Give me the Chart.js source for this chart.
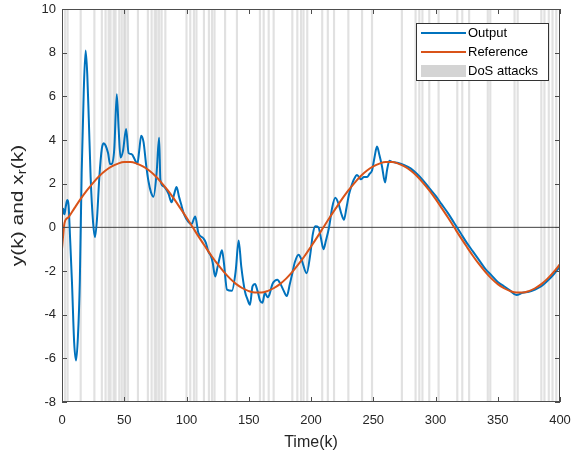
<!DOCTYPE html>
<html>
<head>
<meta charset="utf-8">
<script src="https://cdn.jsdelivr.net/npm/chart.js@4.4.1/dist/chart.umd.min.js"></script>
<style>
  html, body { margin: 0; padding: 0; background: #fff; }
</style>
</head>
<body>
<canvas id="chart" width="572" height="458"></canvas>
<script>
// values
const outputTime = [0, 1, 2, 3, 4.3, 5.3, 6.5, 8, 9.8, 11.3, 12.8, 14.3, 15.8, 17.5, 19, 20.3, 21.5, 23, 25, 26.5,
    28, 30, 32, 33.5, 35, 37, 38.6, 40, 42, 44, 45.5, 47, 49, 51.5, 53.5, 56, 58.5, 60.5, 62, 63.6,
    65.5, 67.5, 69.5, 71.5, 73.5, 76, 78, 79, 81, 83, 85.5, 88, 90, 92, 94, 95.5, 98, 101.5, 104, 107,
    109.5, 113.5, 115.5, 117.5, 119.5, 121, 123, 125, 127, 128.5, 130, 132.5, 136.5, 139.5, 141.9, 144, 147, 149, 151, 153,
    155, 157, 159, 161, 163, 165, 166.5, 169, 171, 173, 175.5, 178, 180.5, 183, 185, 187, 190, 192.5, 196.5, 199.5,
    201.5, 203.5, 206, 208, 210, 212, 214.5, 217, 219.5, 222, 224.5, 226.5, 228.5, 230.5, 232.5, 234.5, 237, 240, 242.5, 245,
    247, 249, 251, 253, 255, 257, 259.5, 261, 263, 265, 270, 275, 280, 285, 290, 295, 300, 305, 310, 315,
    320, 325, 330, 335, 340, 345, 350, 355, 360, 365, 370, 375, 380, 385, 390, 395, 400];
const outputValues = [0.55, 0.85, 0.6, 0.95, 1.25, 1.0, -0.5, -2.5, -5.3, -6.1, -5.0, -2.5, 2.5, 6.3, 8.1, 7.0, 5.0, 2.3, 0.2, -0.45,
    0.3, 2.3, 3.6, 3.85, 3.75, 3.4, 2.9, 2.9, 3.6, 6.1, 4.5, 3.2, 3.5, 4.5, 3.4, 3.35, 3.1, 2.9, 3.5, 4.2,
    3.9, 2.9, 2.1, 1.6, 1.4, 2.5, 4.1, 2.2, 1.9, 1.8, 1.55, 1.15, 1.5, 1.85, 1.4, 1.1, 0.6, 0.25, 0.15, 0.5,
    -0.25, -0.5, -0.7, -1.1, -1.3, -1.6, -2.25, -1.8, -1.3, -1.05, -1.6, -2.85, -2.9, -2.0, -0.6, -1.8, -2.95, -3.3, -3.55, -2.7,
    -2.6, -2.9, -3.35, -3.45, -3.0, -3.2, -3.1, -2.6, -2.45, -2.4, -2.6, -2.9, -3.15, -2.6, -2.1, -1.6, -1.25, -1.5, -2.1, -1.2,
    -0.3, 0.05, 0.0, -0.5, -1.0, -0.6, 0.0, 0.9, 1.35, 1.1, 0.6, 0.35, 0.9, 1.5, 1.9, 2.2, 2.4, 2.2, 2.3, 2.3,
    2.45, 2.6, 3.2, 3.7, 3.3, 2.8, 2.05, 2.6, 3.05, 3.0, 2.95, 2.85, 2.7, 2.45, 2.15, 1.8, 1.45, 1.05, 0.65, 0.2,
    -0.25, -0.7, -1.1, -1.5, -1.9, -2.2, -2.5, -2.7, -2.9, -3.1, -3.0, -2.95, -2.85, -2.7, -2.45, -2.15, -1.8];

const referenceTime = [0, 2, 5, 10, 15, 20, 25, 30, 35, 40, 45, 50, 55, 60, 65, 70, 75, 80, 85, 90,
    95, 100, 105, 110, 115, 120, 125, 130, 135, 140, 145, 150, 155, 160, 165, 170, 175, 180, 185, 190,
    195, 200, 205, 210, 215, 220, 225, 230, 235, 240, 245, 250, 255, 260, 265, 270, 275, 280, 285, 290,
    295, 300, 305, 310, 315, 320, 325, 330, 335, 340, 345, 350, 355, 360, 365, 370, 375, 380, 385, 390,
    395, 400];
const referenceValues = [-1.0, 0.2, 0.45, 0.88, 1.3, 1.69, 2.04, 2.35, 2.6, 2.79, 2.92, 2.99, 2.99, 2.92, 2.79, 2.6, 2.35, 2.04, 1.69, 1.3,
    0.88, 0.45, 0.0, -0.45, -0.88, -1.3, -1.69, -2.04, -2.35, -2.6, -2.79, -2.92, -2.99, -2.99, -2.92, -2.79, -2.6, -2.35, -2.04, -1.69,
    -1.3, -0.88, -0.45, 0.0, 0.45, 0.88, 1.3, 1.69, 2.04, 2.35, 2.6, 2.79, 2.92, 2.99, 2.99, 2.92, 2.79, 2.6, 2.35, 2.04,
    1.69, 1.3, 0.88, 0.45, 0.0, -0.45, -0.88, -1.3, -1.69, -2.04, -2.35, -2.6, -2.79, -2.92, -2.99, -2.99, -2.92, -2.79, -2.6, -2.35,
    -2.04, -1.69];

const dosAttacks = [2.5, 4.5, 15, 26, 32, 35, 37.5, 39, 41.5, 43, 46, 48, 50, 51, 53, 61, 69, 72, 74.5, 76,
    78, 80, 83, 100, 103, 106, 108, 114, 118, 120.5, 122.5, 131, 140.5, 159, 162, 166, 170, 185, 189, 192,
    194, 197, 209, 213.5, 218.5, 230, 241, 249, 273, 284, 287, 289.5, 295, 302.5, 317.5, 321.5, 327, 342, 344, 363.5,
    366, 385, 387.5, 391, 394, 397];

const xTicks = [0, 50, 100, 150, 200, 250, 300, 350, 400];
const yTicks = [-8, -6, -4, -2, 0, 2, 4, 6, 8, 10];
const baseline = 0;

const fontFamily = "'Liberation Sans', Arial, sans-serif";

const axesBox = {
    id: 'axesBox',
    afterDatasetsDraw(chart) {
        const { ctx, chartArea: a, scales: { x, y } } = chart;
        ctx.save();
        ctx.strokeStyle = '#4d4d4d';
        ctx.lineWidth = 1;
        ctx.beginPath();
        xTicks.forEach(v => {
            const px = Math.round(x.getPixelForValue(v)) + 0.5;
            ctx.moveTo(px, a.bottom); ctx.lineTo(px, a.bottom - 5);
            ctx.moveTo(px, a.top); ctx.lineTo(px, a.top + 5);
        });
        yTicks.forEach(v => {
            const py = Math.round(y.getPixelForValue(v)) + 0.5;
            ctx.moveTo(a.left, py); ctx.lineTo(a.left + 5, py);
            ctx.moveTo(a.right, py); ctx.lineTo(a.right - 5, py);
        });
        ctx.stroke();
        ctx.strokeRect(Math.round(a.left) + 0.5, Math.round(a.top) + 0.5,
            Math.round(a.width) - 1, Math.round(a.height) - 1);
        ctx.restore();
    },
    afterDraw(chart) {
        const { ctx, chartArea: a } = chart;
        ctx.save();

        // y axis title with subscript r (picture is a bit squeezed sideways)
        const big = '21px ' + fontFamily, small = '15px ' + fontFamily;
        ctx.font = big;
        const p1 = 'y(k) and x', p3 = '(k)';
        const w1 = ctx.measureText(p1).width, w3 = ctx.measureText(p3).width;
        ctx.font = small;
        const w2 = ctx.measureText('r').width;
        const total = w1 + w2 + w3;
        ctx.translate(18, (a.top + a.bottom) / 2);
        ctx.rotate(-Math.PI / 2);
        ctx.scale(1, 0.8);
        ctx.fillStyle = '#262626';
        ctx.textBaseline = 'middle';
        ctx.textAlign = 'left';
        ctx.font = big;
        ctx.fillText(p1, -total / 2, 0);
        ctx.font = small;
        ctx.fillText('r', -total / 2 + w1, 6);
        ctx.font = big;
        ctx.fillText(p3, -total / 2 + w1 + w2, 0);
        ctx.restore();

        // legend box
        ctx.save();
        const lx = 416, ly = 23, lw = 132, lh = 57;
        ctx.fillStyle = '#fff';
        ctx.fillRect(lx, ly, lw, lh);
        ctx.strokeStyle = '#333';
        ctx.lineWidth = 1;
        ctx.strokeRect(lx + 0.5, ly + 0.5, lw, lh);
        ctx.font = '13px ' + fontFamily;
        ctx.textBaseline = 'middle';
        ctx.fillStyle = '#000';
        const rows = [0, 1, 3];
        rows.forEach((idx, i) => {
            const ds = chart.data.datasets[idx];
            const cy = ly + 10 + i * 19;
            if (ds.type === 'bar') {
                ctx.fillStyle = '#d4d4d4';
                ctx.fillRect(lx + 5, cy - 6, 45, 12);
            } else {
                ctx.strokeStyle = ds.borderColor;
                ctx.lineWidth = 2;
                ctx.beginPath();
                ctx.moveTo(lx + 5, cy); ctx.lineTo(lx + 50, cy);
                ctx.stroke();
            }
            ctx.fillStyle = '#000';
            ctx.fillText(ds.label, lx + 52, cy);
        });
        ctx.restore();
    }
};

new Chart(document.getElementById('chart'), {
    type: 'line',
    data: {
        datasets: [
            {
                label: 'Output',
                data: outputTime.map((t, i) => ({ x: t, y: outputValues[i] })),
                borderColor: '#0072BD',
                borderWidth: 2,
                pointRadius: 0,
                cubicInterpolationMode: 'monotone',
                order: 1
            },
            {
                label: 'Reference',
                data: referenceTime.map((t, i) => ({ x: t, y: referenceValues[i] })),
                borderColor: '#D95319',
                borderWidth: 2,
                pointRadius: 0,
                cubicInterpolationMode: 'monotone',
                order: 0
            },
            {
                label: 'zero',
                data: [{ x: xTicks[0], y: baseline }, { x: xTicks[xTicks.length - 1], y: baseline }],
                borderColor: '#404040',
                borderWidth: 1,
                pointRadius: 0,
                order: 2
            },
            {
                type: 'bar',
                label: 'DoS attacks',
                data: dosAttacks.map(t => ({ x: t, y: [yTicks[0], yTicks[yTicks.length - 1]] })),
                backgroundColor: 'rgba(200, 200, 200, 0.55)',
                borderWidth: 0,
                barThickness: 1.5,
                grouped: false,
                order: 3
            }
        ]
    },
    options: {
        responsive: false,
        animation: false,
        layout: { padding: { top: 9, right: 12, left: 0, bottom: 0 } },
        plugins: { legend: { display: false }, tooltip: { enabled: false } },
        scales: {
            x: {
                type: 'linear',
                min: 0, max: 400,
                offset: false,
                grid: { display: false, drawTicks: false },
                border: { display: false },
                ticks: { stepSize: 50, padding: 11, color: '#262626', font: { family: fontFamily, size: 13 }, maxRotation: 0 },
                title: { display: true, text: 'Time(k)', color: '#262626', font: { family: fontFamily, size: 16 }, padding: { top: 0, bottom: 6 } },
                afterFit: s => { s.height = 56; s.paddingLeft = 0; s.paddingRight = 0; }
            },
            y: {
                min: -8, max: 10,
                grid: { display: false, drawTicks: false },
                border: { display: false },
                ticks: { stepSize: 2, padding: 6, color: '#262626', font: { family: fontFamily, size: 13 } },
                afterFit: s => { s.width = 62; s.paddingTop = 0; s.paddingBottom = 0; }
            }
        }
    },
    plugins: [axesBox]
});
</script>
</body>
</html>
